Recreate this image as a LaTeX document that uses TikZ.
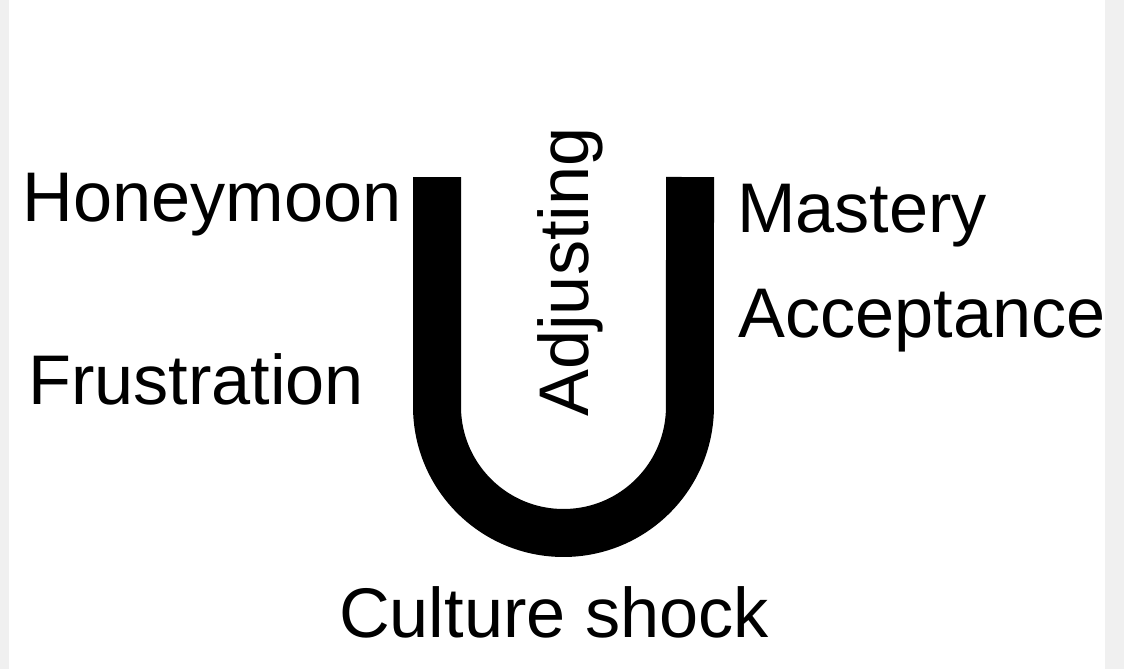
\documentclass[tikz,border=0pt]{standalone}
\usepackage{fontspec}
\setmainfont{Liberation Sans}
\usetikzlibrary{positioning}
\tikzset{stage/.style={font=\fontsize{40pt}{44pt}\selectfont, inner sep=0pt, anchor=base}}
\begin{document}
\begin{tikzpicture}[x=0.02cm, y=-0.02cm]
		\useasboundingbox (0,0) rectangle (1124,669);
		\fill[gray!12] (0,0) rectangle (9,669);
		\fill[gray!12] (1105,0) rectangle (1124,669);
		% the U
		\draw[line width=0.96cm] (437,177) -- (437,406.5) arc[start angle=180, end angle=360, radius=2.53cm] -- (690,177);
		\node[stage] (honeymoon) at (212,221) {Honeymoon};
		\node[stage] (frustration) at (196,404) {Frustration};
		\node[stage] (mastery) at (862,232) {Mastery};
		\node[stage] (acceptance) at (922,337) {Acceptance};
		\node[stage] (culture-shock) at (554,637) {Culture shock};
		\node[stage, rotate=90] (adjusting) at (588,272) {Adjusting};
	\end{tikzpicture}
\end{document}
